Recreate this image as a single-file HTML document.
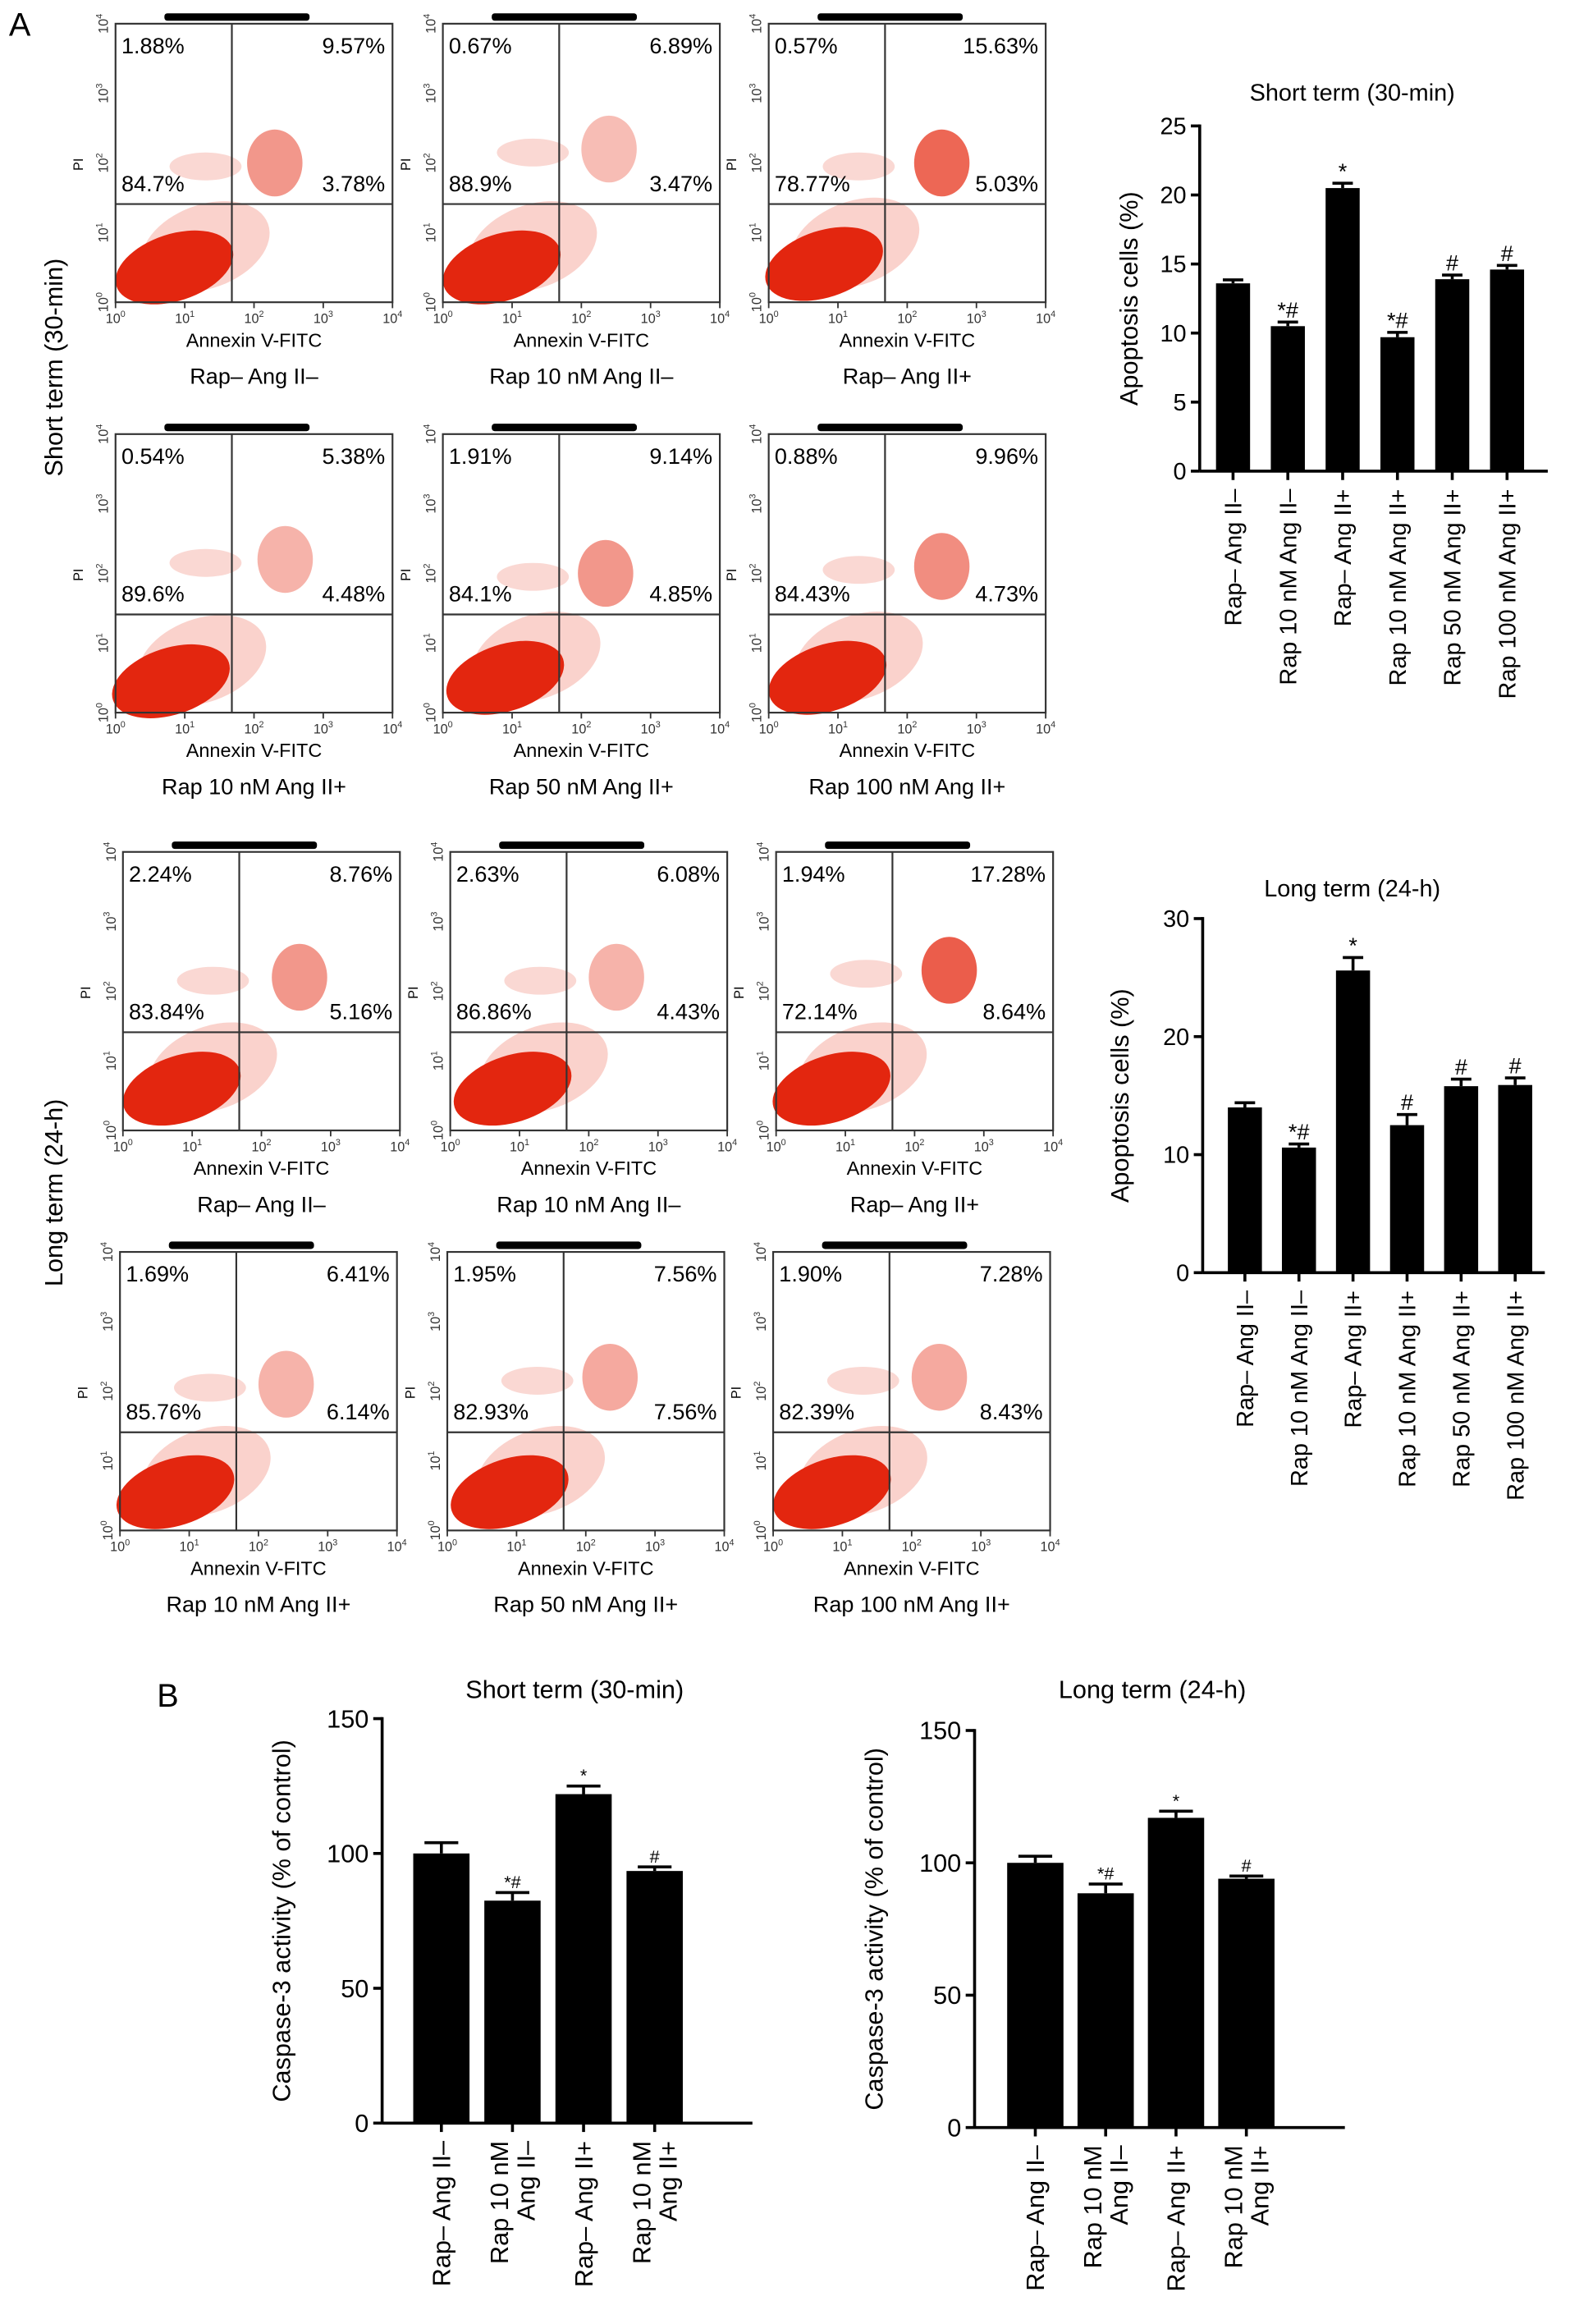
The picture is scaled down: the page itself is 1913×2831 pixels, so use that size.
<!DOCTYPE html>
<html><head><meta charset="utf-8">
<style>
html,body{margin:0;padding:0;background:#fff;}
svg{display:block;font-family:"Liberation Sans",Arial,sans-serif;}
</style></head>
<body>
<svg id="fig" width="1913" height="2831" viewBox="0 0 1060 1568.6" preserveAspectRatio="none" xmlns="http://www.w3.org/2000/svg">
<text x="6" y="24" font-size="22">A</text>
<text x="106" y="1152" font-size="22">B</text>
<text transform="translate(42,248) rotate(-90)" text-anchor="middle" font-size="17">Short term (30-min)</text>
<text transform="translate(42,805) rotate(-90)" text-anchor="middle" font-size="17">Long term (24-h)</text>
<g id="flow"></g>
<g id="bars"></g>
</svg>
<script>
const NS="http://www.w3.org/2000/svg";
function mk(tag,attrs,parent,txt){const e=document.createElementNS(NS,tag);for(const k in attrs)e.setAttribute(k,attrs[k]);if(txt!==undefined)e.textContent=txt;parent.appendChild(e);return e;}

// ---------- Flow cytometry data ----------
const flowLabels=["Rap– Ang II–","Rap 10 nM Ang II–","Rap– Ang II+","Rap 10 nM Ang II+","Rap 50 nM Ang II+","Rap 100 nM Ang II+","Rap– Ang II–","Rap 10 nM Ang II–","Rap– Ang II+","Rap 10 nM Ang II+","Rap 50 nM Ang II+","Rap 100 nM Ang II+"];
const pctUL=["1.88%","0.67%","0.57%","0.54%","1.91%","0.88%","2.24%","2.63%","1.94%","1.69%","1.95%","1.90%"];
const pctUR=["9.57%","6.89%","15.63%","5.38%","9.14%","9.96%","8.76%","6.08%","17.28%","6.41%","7.56%","7.28%"];
const pctLL=["84.7%","88.9%","78.77%","89.6%","84.1%","84.43%","83.84%","86.86%","72.14%","85.76%","82.93%","82.39%"];
const pctLR=["3.78%","3.47%","5.03%","4.48%","4.85%","4.73%","5.16%","4.43%","8.64%","6.14%","7.56%","8.43%"];
// cluster centers in decades [x, y]
const mainCenter=[[0.85,0.5],[0.85,0.5],[0.8,0.55],[0.8,0.45],[0.9,0.5],[0.85,0.5],[0.85,0.6],[0.9,0.6],[0.8,0.6],[0.8,0.55],[0.9,0.55],[0.85,0.55]];
const urCenter=[[2.3,2.0],[2.4,2.2],[2.5,2.0],[2.45,2.2],[2.35,2.0],[2.5,2.1],[2.55,2.2],[2.4,2.2],[2.5,2.3],[2.4,2.1],[2.35,2.2],[2.4,2.2]];
const urDensity=[0.55,0.35,0.8,0.4,0.55,0.6,0.55,0.4,0.85,0.4,0.45,0.45];

const flow=document.getElementById('flow');
const colX=[78,299,519], rowY=[16,293,575,845], rowShift=[0,0,5,3];
const W=187,H=188, qx=1.68, qy=1.41;
const sup=["0","1","2","3","4"];
for(let i=0;i<12;i++){
  const r=Math.floor(i/3),c=i%3;
  const x0=colX[c]+rowShift[r], y0=rowY[r];
  const sx=d=>x0+d/4*W, sy=d=>y0+H-d/4*H;
  const g=mk('g',{},flow);
  
  
  const bar=mk('rect',{x:x0+33,y:y0-7,width:98,height:5,rx:2,fill:'#000'},g);
  
  
  const hx=sx(mainCenter[i][0]+0.45), hy=sy(mainCenter[i][1]+0.3);
  const halo=mk('ellipse',{cx:hx,cy:hy,rx:W*0.24,ry:H*0.15,fill:'#ee6a55','fill-opacity':0.3,transform:`rotate(-20 ${hx} ${hy})`},g);
  
  
  const mx=sx(mainCenter[i][0]), my=sy(mainCenter[i][1]);
  const m=mk('ellipse',{cx:mx,cy:my,rx:W*0.22,ry:H*0.12,fill:'#e3260f',transform:`rotate(-18 ${mx} ${my})`},g);
  
  
  const u=mk('ellipse',{cx:sx(urCenter[i][0]),cy:sy(urCenter[i][1]),rx:W*0.1,ry:H*0.12,fill:'#e8412b','fill-opacity':urDensity[i]},g);
  
  
  const ul=mk('ellipse',{cx:sx(1.3),cy:sy(urCenter[i][1]-0.05),rx:W*0.13,ry:H*0.05,fill:'#f09080','fill-opacity':0.35},g);
  
  
  const box=mk('rect',{x:x0,y:y0,width:W,height:H,fill:'none',stroke:'#333','stroke-width':1.2},g);
  
  
  mk('line',{x1:sx(qx),x2:sx(qx),y1:y0,y2:y0+H,stroke:'#333','stroke-width':1.2},g);
  mk('line',{x1:x0,x2:x0+W,y1:sy(qy),y2:sy(qy),stroke:'#333','stroke-width':1.2},g);
  for(let d=0;d<=4;d++){
    const t=mk('text',{x:sx(d),y:y0+H+14,'font-size':9,'text-anchor':'middle',fill:'#333'},g);
    
    
    t.textContent='10';mk('tspan',{dy:-4,'font-size':6},t,sup[d]);
    const ty=mk('text',{transform:`translate(${x0-5},${sy(d)}) rotate(-90)`,'font-size':9,'text-anchor':'middle',fill:'#333'},g);
    
    
    ty.textContent='10';mk('tspan',{dy:-4,'font-size':6},ty,sup[d]);
    mk('line',{x1:sx(d),x2:sx(d),y1:y0+H,y2:y0+H+4,stroke:'#333'},g);
  }
  const pi=mk('text',{transform:`translate(${x0-22},${y0+95}) rotate(-90)`,'font-size':9,'text-anchor':'middle'},g,'PI');
  
  
  const ax=mk('text',{x:x0+W/2,y:y0+H+30,'font-size':13,'text-anchor':'middle'},g,'Annexin V-FITC');
  
  
  const lb=mk('text',{x:x0+W/2,y:y0+H+55,'font-size':15,'text-anchor':'middle'},g,flowLabels[i]);
  
  
  const a=mk('text',{x:x0+4,y:y0+20,'font-size':15},g,pctUL[i]);
  
  
  const b=mk('text',{x:x0+W-5,y:y0+20,'font-size':15,'text-anchor':'end'},g,pctUR[i]);
  
  
  const cc=mk('text',{x:x0+4,y:y0+113,'font-size':15},g,pctLL[i]);
  
  
  const dd=mk('text',{x:x0+W-5,y:y0+113,'font-size':15,'text-anchor':'end'},g,pctLR[i]);
  
  
}

// ---------- Bar chart data ----------
const catsA=["Rap– Ang II–","Rap 10 nM Ang II–","Rap– Ang II+","Rap 10 nM Ang II+","Rap 50 nM Ang II+","Rap 100 nM Ang II+"];
const shortVals=[13.6,10.5,20.5,9.7,13.9,14.6];
const shortErr=[0.25,0.3,0.35,0.35,0.3,0.3];
const shortSig=["","*#","*","*#","#","#"];
const longVals=[14.0,10.6,25.6,12.5,15.8,15.9];
const longErr=[0.4,0.3,1.1,0.9,0.6,0.6];
const longSig=["","*#","*","#","#","#"];
const catsB=[["Rap– Ang II–"],["Rap 10 nM","Ang II–"],["Rap– Ang II+"],["Rap 10 nM","Ang II+"]];
const casShort=[100,82.5,122,93.5];
const casShortErr=[4,3,3,1.5];
const casShortSig=["","*#","*","#"];
const casLong=[100,88.5,117,94];
const casLongErr=[2.5,3.5,2.5,1];
const casLongSig=["","*#","*","#"];
const ticksA1=[0,5,10,15,20,25], ticksA2=[0,10,20,30], ticksB=[0,50,100,150];

const bars=document.getElementById('bars');
function chart(o){
  const g=mk('g',{},bars);
  
  
  const ymax=o.ticks[o.ticks.length-1];
  const Y=v=>o.y0-(v/ymax)*(o.y0-o.y1);
  const X=i=>o.start+i*o.pitch;
  const t=mk('text',{x:o.tx,y:o.ty,'font-size':o.tfs,'text-anchor':'middle'},g,o.title);
  
  
  const yl=mk('text',{transform:`translate(${o.ylx},${(o.y0+o.y1)/2}) rotate(-90)`,'font-size':o.lfs,'text-anchor':'middle'},g,o.ylabel);
  
  
  o.vals.forEach((v,i)=>{
    const bx=X(i), cx=bx+o.bw/2;
    const e=Y(v+o.err[i]);
    mk('line',{x1:cx,x2:cx,y1:Y(v),y2:e,stroke:'#000','stroke-width':2},g);
    mk('line',{x1:cx-o.bw*0.3,x2:cx+o.bw*0.3,y1:e,y2:e,stroke:'#000','stroke-width':2},g);
    const r=mk('rect',{x:bx,y:Y(v),width:o.bw,height:o.y0-Y(v),fill:'#000'},g);
    
    
    if(o.sig[i]){const s=mk('text',{x:cx,y:e-3,'font-size':o.sfs,'text-anchor':'middle'},g,o.sig[i]);
      
      }
    mk('line',{x1:cx,x2:cx,y1:o.y0,y2:o.y0+6,stroke:'#000','stroke-width':2},g);
    const lines=Array.isArray(o.cats[i])?o.cats[i]:[o.cats[i]];
    const lt=mk('text',{transform:`translate(${cx},${o.y0+12}) rotate(-90)`,'font-size':o.cfs,'text-anchor':'end'},g);
    
    
    const n=lines.length;
    lines.forEach((ln,k)=>{mk('tspan',{x:0,y:(k-(n-1)/2)*o.cfs*1.05+o.cfs*0.35},lt,ln);});
  });
  o.ticks.forEach(tv=>{
    mk('line',{x1:o.ax-6,x2:o.ax,y1:Y(tv),y2:Y(tv),stroke:'#000','stroke-width':2},g);
    const tl=mk('text',{x:o.ax-9,y:Y(tv)+o.kfs*0.35,'font-size':o.kfs,'text-anchor':'end'},g,String(tv));
    
    
  });
  mk('line',{x1:o.ax,x2:o.ax,y1:o.y1-1,y2:o.y0,stroke:'#000','stroke-width':2},g);
  mk('line',{x1:o.ax,x2:o.axEnd,y1:o.y0,y2:o.y0,stroke:'#000','stroke-width':2},g);
}
chart({name:'short-term-apoptosis-chart',title:'Short term (30-min)',tx:913,ty:68,tfs:16,ylabel:'Apoptosis cells (%)',ylx:768,lfs:17,ax:810,axEnd:1045,y0:318,y1:85,ticks:ticksA1,vals:shortVals,err:shortErr,sig:shortSig,cats:catsA,start:821,pitch:37,bw:23,sfs:15,cfs:16,kfs:16});
chart({name:'long-term-apoptosis-chart',title:'Long term (24-h)',tx:913,ty:605,tfs:16,ylabel:'Apoptosis cells (%)',ylx:762,lfs:17,ax:812,axEnd:1043,y0:859,y1:620,ticks:ticksA2,vals:longVals,err:longErr,sig:longSig,cats:catsA,start:829,pitch:36.5,bw:23,sfs:15,cfs:16,kfs:16});
chart({name:'short-term-caspase-chart',title:'Short term (30-min)',tx:388,ty:1146,tfs:17,ylabel:'Caspase-3 activity (% of control)',ylx:196,lfs:17,ax:258,axEnd:508,y0:1433,y1:1160,ticks:ticksB,vals:casShort,err:casShortErr,sig:casShortSig,cats:catsB,start:279,pitch:48,bw:38,sfs:12,cfs:17,kfs:17});
chart({name:'long-term-caspase-chart',title:'Long term (24-h)',tx:778,ty:1146,tfs:17,ylabel:'Caspase-3 activity (% of control)',ylx:596,lfs:17,ax:658,axEnd:908,y0:1436,y1:1168,ticks:ticksB,vals:casLong,err:casLongErr,sig:casLongSig,cats:catsB,start:680,pitch:47.5,bw:38,sfs:12,cfs:17,kfs:17});
</script>
</body></html>
